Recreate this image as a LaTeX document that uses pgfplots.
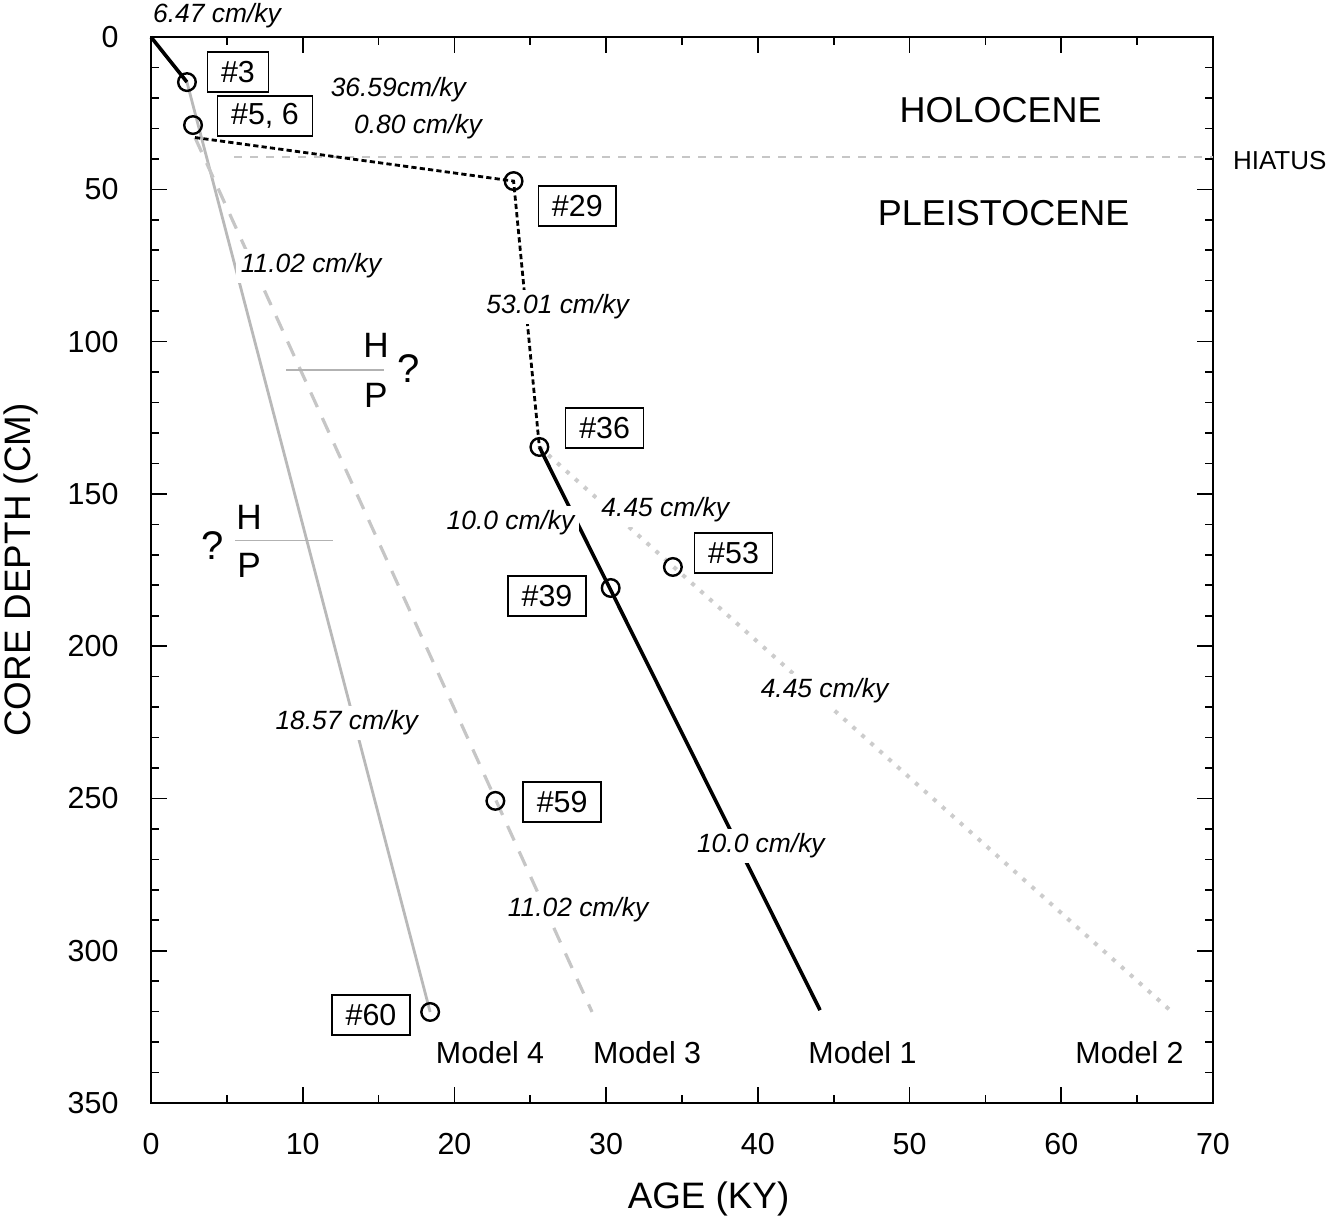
\documentclass[border=0pt]{standalone}
\usepackage{pgfplots}
\pgfplotsset{compat=1.18}
\usepackage{fontspec}
\setmainfont{Liberation Sans}
\begin{document}
\begin{tikzpicture}
\tikzset{
 rate/.style={font=\fontsize{6.6}{7}\selectfont\itshape, fill=white, inner sep=1.2pt},
 lbl/.style={draw, line width=0.4pt, font=\fontsize{7.6}{8}\selectfont, inner xsep=3.4pt, inner ysep=1.5pt, minimum height=10pt, fill=white},
 mdl/.style={font=\fontsize{7.6}{8}\selectfont},
 hp/.style={font=\fontsize{8.8}{9}\selectfont, inner sep=0pt},
 hq/.style={font=\fontsize{10}{11}\selectfont, inner sep=0pt},
}
\useasboundingbox (-37.75pt,-29.5pt) rectangle (298.25pt,275.75pt);
\begin{axis}[
 scale only axis, width=265.5pt, height=266.5pt,
 xmin=0, xmax=70, ymin=0, ymax=350, y dir=reverse,
 xtick={0,10,...,70}, minor x tick num=1,
 ytick={0,50,...,350}, minor y tick num=4,
 tick align=inside, major tick length=4pt, minor tick length=2pt,
 axis line style={line width=0.5pt},
 every tick/.style={black, line width=0.4pt},
 /pgf/number format/assume math mode=true,
 tick label style={font=\fontsize{7.6}{8}\selectfont},
 xticklabel style={yshift=-4pt},
 yticklabel style={xshift=-4.6pt},
 xlabel={AGE (KY)}, ylabel={CORE DEPTH (CM)},
 label style={font=\fontsize{9.2}{10}\selectfont},
 xlabel style={at={(axis description cs:0.525,-0.0901)}, anchor=center},
 ylabel style={at={(axis description cs:-0.1224,0.5)}, anchor=center},
 clip=false,
]
% hiatus line
\addplot[gray!45, line width=0.4pt, dash pattern=on 2pt off 2pt] coordinates {(5.5,39.4) (70,39.4)};
% Model 4
\addplot[gray!55, line width=0.7pt] coordinates {(2.37,14.8) (18.4,320.1)};
% Model 3
\addplot[gray!45, line width=0.8pt, dash pattern=on 4pt off 3pt] coordinates {(2.9,33) (29.07,320.1)};
% Model 2
\addplot[gray!40, line width=1pt, dash pattern=on 1pt off 2pt] coordinates {(25.6,134.6) (67.3,320.1)};
% Model 1 upper (dashed)
\addplot[black, line width=0.7pt, dash pattern=on 1.3pt off 0.8pt] coordinates {(2.9,33) (23.9,47.3) (25.6,134.6)};
% Model 1 lower (solid)
\addplot[black, line width=0.9pt] coordinates {(25.6,134.6) (44.1,319.5)};
% top segment
\addplot[black, line width=0.9pt] coordinates {(0,0) (2.37,14.8)};
% H/P boundary lines
\addplot[gray!60, line width=0.3pt] coordinates {(8.9,109.3) (15.36,109.3)};
\addplot[gray!60, line width=0.3pt] coordinates {(5.54,165.2) (12.0,165.2)};
% samples
\addplot[only marks, mark=o, mark size=2.2pt, mark options={fill=white, draw=black, line width=0.6pt}] coordinates {
 (2.37,14.8) (2.77,28.9) (23.9,47.3) (25.6,134.6) (34.4,174.0) (30.3,180.9) (22.7,250.8) (18.4,320.1)};

% rate labels
\node[rate] at (axis cs:4.35,-6.9) {6.47 cm/ky};
\node[rate] at (axis cs:16.3,17.4) {36.59cm/ky};
\node[rate] at (axis cs:17.6,29.5) {0.80 cm/ky};
\node[rate] at (axis cs:10.55,75.2) {11.02 cm/ky};
\node[rate] at (axis cs:26.8,88.6) {53.01 cm/ky};
\node[rate] at (axis cs:23.7,159.6) {10.0 cm/ky};
\node[rate] at (axis cs:33.9,155.3) {4.45 cm/ky};
\node[rate] at (axis cs:44.4,214.7) {4.45 cm/ky};
\node[rate] at (axis cs:12.9,225.2) {18.57 cm/ky};
\node[rate] at (axis cs:40.2,265.6) {10.0 cm/ky};
\node[rate] at (axis cs:28.15,286.6) {11.02 cm/ky};

% sample labels
\node[lbl] at (axis cs:5.73,11.5) {\#3};
\node[lbl] at (axis cs:7.51,25.9) {\#5, 6};
\node[lbl] at (axis cs:28.1,55.5) {\#29};
\node[lbl] at (axis cs:29.9,128.4) {\#36};
\node[lbl] at (axis cs:38.4,169.4) {\#53};
\node[lbl] at (axis cs:26.1,183.5) {\#39};
\node[lbl] at (axis cs:27.1,251.2) {\#59};
\node[lbl] at (axis cs:14.5,321.1) {\#60};

% model labels
\node[mdl] at (axis cs:22.35,333.3) {Model 4};
\node[mdl] at (axis cs:32.7,333.3) {Model 3};
\node[mdl] at (axis cs:46.9,333.3) {Model 1};
\node[mdl] at (axis cs:64.5,333.3) {Model 2};

% epochs
\node[font=\fontsize{9}{10}\selectfont] at (axis cs:56.0,24.0) {HOLOCENE};
\node[font=\fontsize{9}{10}\selectfont] at (axis cs:56.2,57.8) {PLEISTOCENE};
\node[font=\fontsize{6.5}{7}\selectfont] at (axis cs:74.4,40.7) {HIATUS};

% H/P markers
\node[hp] at (axis cs:14.83,101.1) {H};
\node[hp] at (axis cs:14.83,117.5) {P};
\node[hq] at (axis cs:17.0,108.7) {?};
\node[hp] at (axis cs:6.46,157.6) {H};
\node[hp] at (axis cs:6.46,173.4) {P};
\node[hq] at (axis cs:4.09,166.8) {?};
\end{axis}
\end{tikzpicture}
\end{document}
